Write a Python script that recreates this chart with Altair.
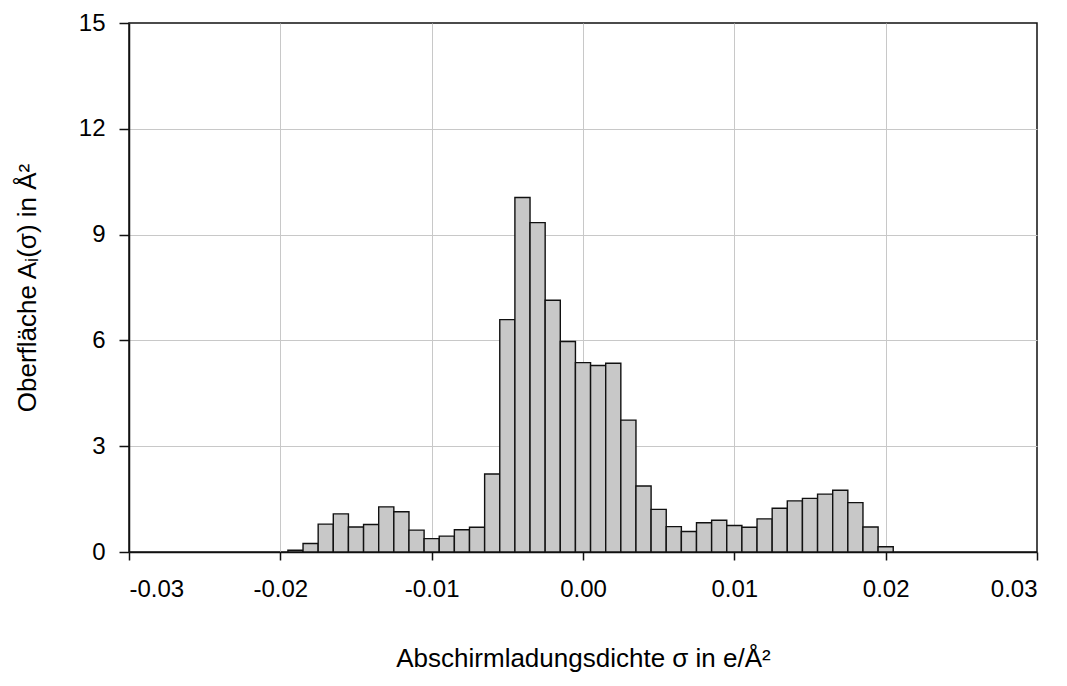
import altair as alt
import pandas as pd

# bin centres of the sigma-profile (e/Å²) and the surface area per bin (Å²)
sigma = [-0.019, -0.018, -0.017, -0.016, -0.015, -0.014, -0.013, -0.012, -0.011, -0.010,
         -0.009, -0.008, -0.007, -0.006, -0.005, -0.004, -0.003, -0.002, -0.001, 0.000,
         0.001, 0.002, 0.003, 0.004, 0.005, 0.006, 0.007, 0.008, 0.009, 0.010,
         0.011, 0.012, 0.013, 0.014, 0.015, 0.016, 0.017, 0.018, 0.019, 0.020]
area = [0.05, 0.24, 0.79, 1.08, 0.71, 0.78, 1.28, 1.14, 0.62, 0.38,
        0.45, 0.63, 0.70, 2.21, 6.59, 10.05, 9.34, 7.14, 5.97, 5.37,
        5.29, 5.35, 3.74, 1.87, 1.21, 0.72, 0.58, 0.83, 0.90, 0.75,
        0.70, 0.94, 1.24, 1.45, 1.52, 1.64, 1.75, 1.40, 0.71, 0.15]
bin_width = 0.001

x_ticks = [-0.03, -0.02, -0.01, 0.0, 0.01, 0.02, 0.03]
y_ticks = [0, 3, 6, 9, 12, 15]

df = pd.DataFrame({"sigma": sigma, "area": area})
df["lo"] = df["sigma"] - bin_width / 2
df["hi"] = df["sigma"] + bin_width / 2

FONT = "Liberation Sans"
DARK = "#111111"

common = dict(labelFont=FONT, titleFont=FONT, labelFontSize=24, titleFontSize=26,
              labelColor="#000000", titleColor="#000000", titleFontWeight="normal",
              domainColor=DARK, domainWidth=1.5, tickColor=DARK, tickWidth=1.5,
              gridColor="#c8c8c8", gridWidth=1)

chart = alt.Chart(df).mark_bar(
    fill="#c8c8c8", stroke=DARK, strokeWidth=1.4
).encode(
    x=alt.X("lo:Q",
            scale=alt.Scale(domain=[-0.03, 0.03], nice=False, zero=False),
            axis=alt.Axis(values=x_ticks,
                          labelExpr="replace(format(datum.value, '.2f'), '\u2212', '-')",
                          title="Abschirmladungsdichte σ in e/Å²",
                          tickSize=8, labelPadding=17, titlePadding=44,
                          gridOpacity={"condition": {"test": "datum.value > 0.029", "value": 0}, "value": 1},
                          **common)),
    x2="hi:Q",
    y=alt.Y("area:Q",
            scale=alt.Scale(domain=[0, 15], nice=False),
            axis=alt.Axis(values=y_ticks, title="Oberfläche Aᵢ(σ) in Å²",
                          tickSize=10, labelPadding=14, titlePadding=38,
                          gridOpacity={"condition": {"test": "datum.value > 14.9", "value": 0}, "value": 1},
                          **common)),
    y2=alt.datum(0),
).properties(
    width=908, height=529,
    autosize=alt.AutoSizeParams(type="none"),
    padding={"left": 121, "top": 15, "right": 20, "bottom": 126},
).configure_view(
    stroke=DARK, strokeWidth=1.5
)

chart.save("out.html", embed_options={"renderer": "svg", "actions": False})
